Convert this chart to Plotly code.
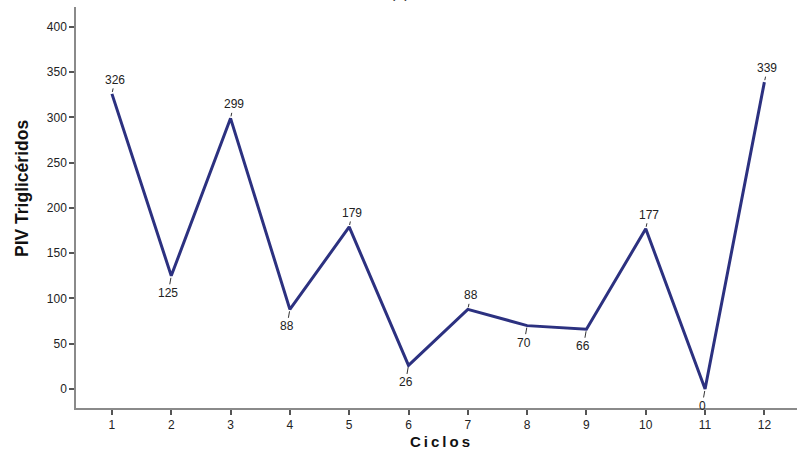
import plotly.graph_objects as go

ciclos = [1, 2, 3, 4, 5, 6, 7, 8, 9, 10, 11, 12]
valores = [326, 125, 299, 88, 179, 26, 88, 70, 66, 177, 0, 339]
posicion = ["up", "down", "up", "down", "up", "down", "up", "down", "down", "up", "down", "up"]
y_ticks = [0, 50, 100, 150, 200, 250, 300, 350, 400]

FONT = "Liberation Sans, Arial"

fig = go.Figure()
fig.add_trace(go.Scatter(
    x=ciclos, y=valores, mode="lines",
    line=dict(color="#2c3180", width=3),
    hoverinfo="skip", showlegend=False,
))

for c, v, p in zip(ciclos, valores, posicion):
    fig.add_annotation(
        x=c, y=v, text=str(v), showarrow=True, arrowhead=0,
        arrowwidth=1, arrowcolor="#333333", standoff=2,
        ax=3 if p == "up" else -3, ay=-14 if p == "up" else 17,
        font=dict(family=FONT, size=12, color="#222222"),
    )

# partially visible panel title at the very top
fig.add_annotation(
    x=0.449, y=1.0, xref="paper", yref="paper", yshift=4,
    text="(a)", showarrow=False, yanchor="bottom",
    font=dict(family=FONT, size=16, color="#333333"),
)

# axis titles
fig.add_annotation(
    x=0.505, y=-0.0823, xref="paper", yref="paper",
    text="C\u2009i\u2009c\u2009l\u2009o\u2009s", showarrow=False,
    xanchor="center", yanchor="middle",
    font=dict(family=FONT, size=15, color="#111111", weight="bold"),
)
fig.add_annotation(
    x=-0.0749, y=0.5486, xref="paper", yref="paper",
    text="PIV Triglicéridos", showarrow=False, textangle=-90,
    xanchor="center", yanchor="middle",
    font=dict(family=FONT, size=17.5, color="#111111", weight="bold"),
)

fig.update_layout(
    width=797, height=452,
    margin=dict(l=76, r=0, t=7, b=44),
    paper_bgcolor="white", plot_bgcolor="white",
    xaxis=dict(
        range=[0.394, 12.55], tickvals=ciclos, ticktext=[str(c) for c in ciclos],
        showline=True, linecolor="#8a8a8a", linewidth=1.5,
        ticks="outside", ticklen=5, tickcolor="#555555", tickwidth=1.5,
        showgrid=False, zeroline=False, automargin=False,
        tickfont=dict(family=FONT, size=12, color="#222222"),
    ),
    yaxis=dict(
        range=[-21, 422], tickvals=y_ticks,
        showline=True, linecolor="#8a8a8a", linewidth=1.5,
        ticks="outside", ticklen=5, tickcolor="#555555", tickwidth=1.5,
        showgrid=False, zeroline=False, automargin=False,
        tickfont=dict(family=FONT, size=12, color="#222222"),
    ),
)

fig.write_html(
    "out.html",
    config={"displayModeBar": False},
    post_script="document.body.style.margin='0';document.body.style.overflow='hidden';",
)
